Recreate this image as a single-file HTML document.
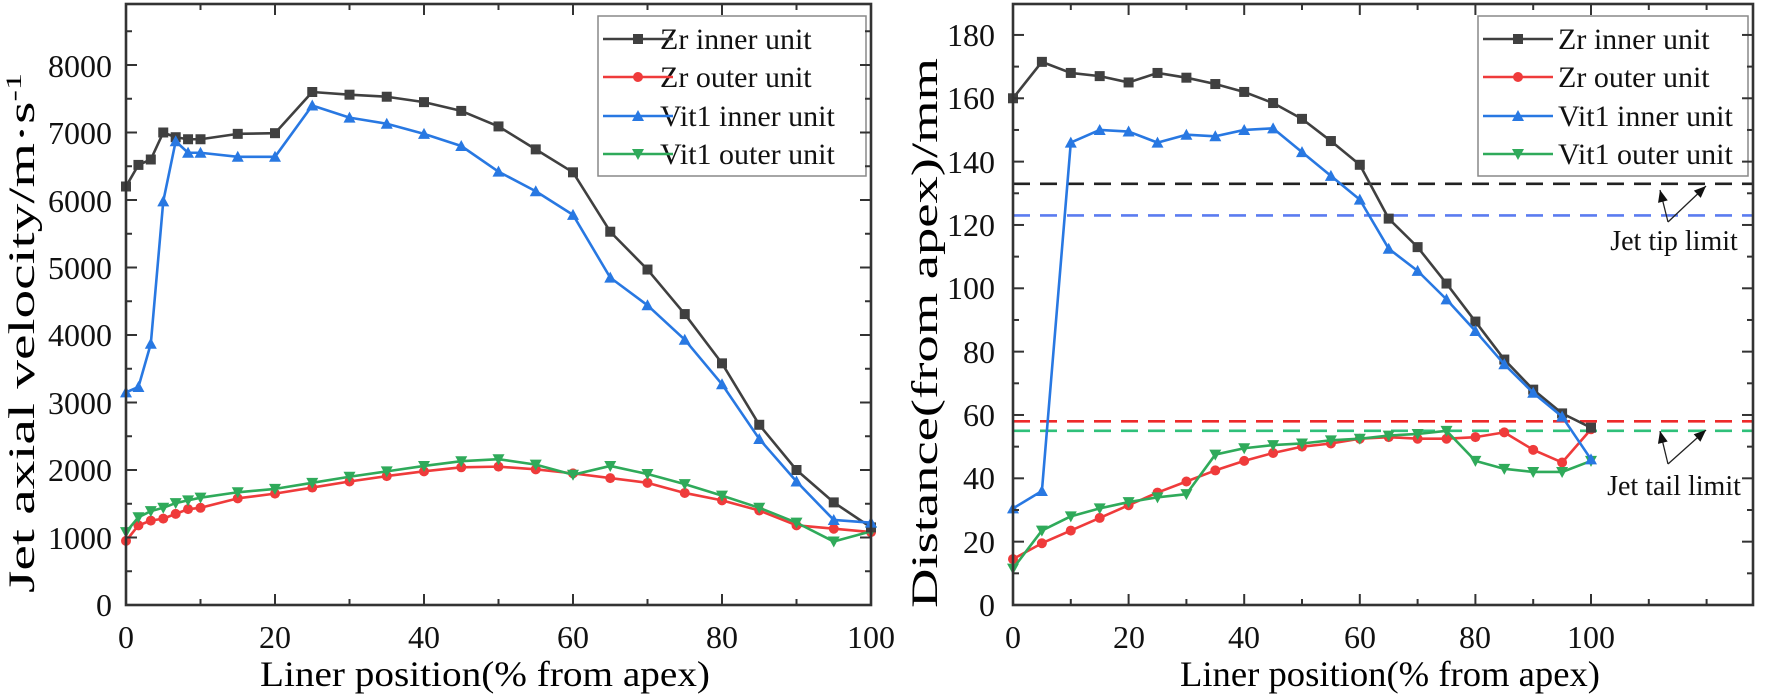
<!DOCTYPE html>
<html><head><meta charset="utf-8"><style>
html,body{margin:0;padding:0;background:#fff;}
svg{display:block;font-family:"Liberation Serif",serif;}
</style></head><body>
<svg id="s" width="1765" height="696" viewBox="0 0 1765 696" xmlns="http://www.w3.org/2000/svg">
<g id="g"></g>
<g font-size="32" fill="#111" text-anchor="end">
<text x="112" y="616">0</text><text x="112" y="549">1000</text><text x="112" y="481">2000</text>
<text x="112" y="414">3000</text><text x="112" y="346">4000</text><text x="112" y="279">5000</text>
<text x="112" y="212">6000</text><text x="112" y="144">7000</text><text x="112" y="77">8000</text>
</g>
<g font-size="32" fill="#111" text-anchor="middle">
<text x="126" y="648">0</text><text x="275" y="648">20</text><text x="424" y="648">40</text>
<text x="573" y="648">60</text><text x="722" y="648">80</text><text x="871" y="648">100</text>
<text x="1013" y="648">0</text><text x="1129" y="648">20</text><text x="1244" y="648">40</text>
<text x="1360" y="648">60</text><text x="1475" y="648">80</text><text x="1591" y="648">100</text>
</g>
<g font-size="32" fill="#111" text-anchor="end">
<text x="995" y="616">0</text><text x="995" y="553">20</text><text x="995" y="489">40</text>
<text x="995" y="426">60</text><text x="995" y="363">80</text><text x="995" y="299">100</text>
<text x="995" y="236">120</text><text x="995" y="173">140</text><text x="995" y="109">160</text>
<text x="995" y="46">180</text>
</g>
<text x="485" y="686" font-size="36" text-anchor="middle" textLength="450" lengthAdjust="spacingAndGlyphs">Liner position(% from apex)</text>
<text x="1390" y="686" font-size="36" text-anchor="middle" textLength="420" lengthAdjust="spacingAndGlyphs">Liner position(% from apex)</text>
<text transform="translate(34,333) rotate(-90)" font-size="37" text-anchor="middle" textLength="520" lengthAdjust="spacingAndGlyphs">Jet axial velocity/m·s<tspan font-size="22" dy="-13">-1</tspan></text>
<text transform="translate(937,333) rotate(-90)" font-size="37" text-anchor="middle" textLength="550" lengthAdjust="spacingAndGlyphs">Distance(from apex)/mm</text>
<g font-size="30" fill="#111">
<rect x="598" y="16" width="268" height="160" fill="#fff" stroke="#888" stroke-width="1.5"/>
<text x="660" y="49">Zr inner unit</text><text x="660" y="87">Zr outer unit</text>
<text x="660" y="126">Vit1 inner unit</text><text x="660" y="164">Vit1 outer unit</text>
<rect x="1478" y="16" width="270" height="160" fill="#fff" stroke="#888" stroke-width="1.5"/>
<text x="1558" y="49">Zr inner unit</text><text x="1558" y="87">Zr outer unit</text>
<text x="1558" y="126">Vit1 inner unit</text><text x="1558" y="164">Vit1 outer unit</text>
</g>
<g font-size="28" fill="#111" text-anchor="middle">
<text x="1674" y="250">Jet tip limit</text>
<text x="1674" y="495">Jet tail limit</text>
</g>
<g id="fg"></g>
</svg>
<script>
var NS="http://www.w3.org/2000/svg";
var g=document.getElementById('g'),fg=document.getElementById('fg');
function el(t,a,p){var e=document.createElementNS(NS,t);for(var k in a)e.setAttribute(k,a[k]);(p||g).appendChild(e);return e;}
var C={k:'#404040',r:'#ef3b3b',b:'#2878e2',gr:'#2faa5a'};
function marker(type,x,y,c,p){
 var s=5;
 if(type=='sq')el('rect',{x:x-s,y:y-s,width:2*s,height:2*s,fill:c},p);
 else if(type=='ci')el('circle',{cx:x,cy:y,r:s,fill:c},p);
 else if(type=='tu')el('polygon',{points:(x)+','+(y-6)+' '+(x-6)+','+(y+5)+' '+(x+6)+','+(y+5),fill:c},p);
 else el('polygon',{points:(x)+','+(y+6)+' '+(x-6)+','+(y-5)+' '+(x+6)+','+(y-5),fill:c},p);
}
function series(pts,fx,fy,c,m){
 var s=pts.map(function(p){return fx(p[0])+','+fy(p[1]);}).join(' ');
 el('polyline',{points:s,fill:'none',stroke:c,'stroke-width':2.6,'stroke-linejoin':'round'});
 pts.forEach(function(p){marker(m,fx(p[0]),fy(p[1]),c);});
}
var lx=function(v){return 126+v*7.45;}, ly=function(v){return 605-v*0.0675;};
var xs=[0,1.67,3.33,5,6.67,8.33,10,15,20,25,30,35,40,45,50,55,60,65,70,75,80,85,90,95,100];
function z(a){return xs.map(function(x,i){return [x,a[i]];});}
var ZI=z([6200,6520,6600,7000,6930,6900,6900,6980,6990,7600,7560,7530,7450,7320,7090,6750,6410,5530,4970,4310,3580,2670,2000,1520,1150]);
var VI=z([3150,3230,3870,5980,6870,6700,6700,6640,6640,7400,7220,7130,6980,6800,6420,6130,5780,4850,4440,3930,3270,2460,1830,1260,1220]);
var ZO=z([950,1180,1250,1280,1350,1420,1440,1580,1650,1740,1830,1910,1980,2040,2050,2010,1950,1880,1810,1660,1550,1400,1180,1130,1080]);
var VO=z([1080,1300,1390,1440,1510,1550,1590,1670,1720,1810,1900,1980,2060,2130,2160,2080,1930,2060,1940,1790,1620,1440,1220,940,1090]);
series(ZO,lx,ly,C.r,'ci');series(VO,lx,ly,C.gr,'td');series(ZI,lx,ly,C.k,'sq');series(VI,lx,ly,C.b,'tu');
var rx=function(v){return 1013+v*5.78;}, ry=function(v){return 605-v*3.167;};
var x2=[0,5,10,15,20,25,30,35,40,45,50,55,60,65,70,75,80,85,90,95,100];
function z2(a){return x2.map(function(x,i){return [x,a[i]];});}
[[133,'#222'],[123,'#5b7cf0'],[58,'#ee2a2a'],[55,'#2fc07a']].forEach(function(d){
 el('line',{x1:1013,x2:1753,y1:ry(d[0]),y2:ry(d[0]),stroke:d[1],'stroke-width':2.6,'stroke-dasharray':'17,10'});
});
var RZI=z2([160,171.5,168,167,165,168,166.5,164.5,162,158.5,153.5,146.5,139,122,113,101.5,89.5,77.5,68,60.5,56]);
var RVI=z2([30.5,36,146,150,149.5,146,148.5,148,150,150.5,143,135.5,128,112.5,105.5,96.5,86.5,76,67,59.5,46]);
var RZO=z2([14.5,19.5,23.5,27.5,31.5,35.5,39,42.5,45.5,48,50,51,52.5,53,52.5,52.5,53,54.5,49,45,55.5]);
var RVO=z2([11.5,23.5,28,30.5,32.5,34,35,47.5,49.5,50.5,51,52,52.5,53.5,54,55,45.5,43,42,42,45.5]);
series(RZO,rx,ry,C.r,'ci');series(RVO,rx,ry,C.gr,'td');series(RZI,rx,ry,C.k,'sq');series(RVI,rx,ry,C.b,'tu');
function arrow(x1,y1,x2,y2){
 el('line',{x1:x1,y1:y1,x2:x2,y2:y2,stroke:'#222','stroke-width':1.3});
 var a=Math.atan2(y2-y1,x2-x1),l=12,w=5;
 var bx=x2-l*Math.cos(a),by=y2-l*Math.sin(a);
 el('polygon',{points:x2+','+y2+' '+(bx+w*Math.sin(a))+','+(by-w*Math.cos(a))+' '+(bx-w*Math.sin(a))+','+(by+w*Math.cos(a)),fill:'#111'});
}
arrow(1668,222,1660,190);arrow(1668,222,1706,186);
arrow(1668,464,1660,431);arrow(1668,464,1706,430);
function box(x0,x1,y0,y1,xt,yt){
 el('rect',{x:x0,y:y1,width:x1-x0,height:y0-y1,fill:'none',stroke:'#333','stroke-width':2.6},fg);
 xt.forEach(function(t){var L=t[1]?11:6;
  el('line',{x1:t[0],x2:t[0],y1:y0,y2:y0-L,stroke:'#333','stroke-width':2},fg);
  el('line',{x1:t[0],x2:t[0],y1:y1,y2:y1+L,stroke:'#333','stroke-width':2},fg);});
 yt.forEach(function(t){var L=t[1]?11:6;
  el('line',{x1:x0,x2:x0+L,y1:t[0],y2:t[0],stroke:'#333','stroke-width':2},fg);
  el('line',{x1:x1,x2:x1-L,y1:t[0],y2:t[0],stroke:'#333','stroke-width':2},fg);});
}
var xt=[],yt=[];
for(var v=10;v<100;v+=10)xt.push([lx(v),v%20==0]);
for(var v=500;v<=8500;v+=500)yt.push([ly(v),v%1000==0]);
box(126,871,605,4,xt,yt);
xt=[];yt=[];
for(var v=10;v<=120;v+=10)xt.push([rx(v),v%20==0&&v<=100]);
for(var v=10;v<=180;v+=10)yt.push([ry(v),v%20==0]);
box(1013,1753,605,4,xt,yt);
function leg(x,c,m,y){el('line',{x1:x,x2:x+70,y1:y,y2:y,stroke:c,'stroke-width':2.6},fg);marker(m,x+35,y,c,fg);}
[603,1483].forEach(function(x){
 leg(x,C.k,'sq',39);leg(x,C.r,'ci',77);leg(x,C.b,'tu',116);leg(x,C.gr,'td',154);});
</script>
</body></html>
